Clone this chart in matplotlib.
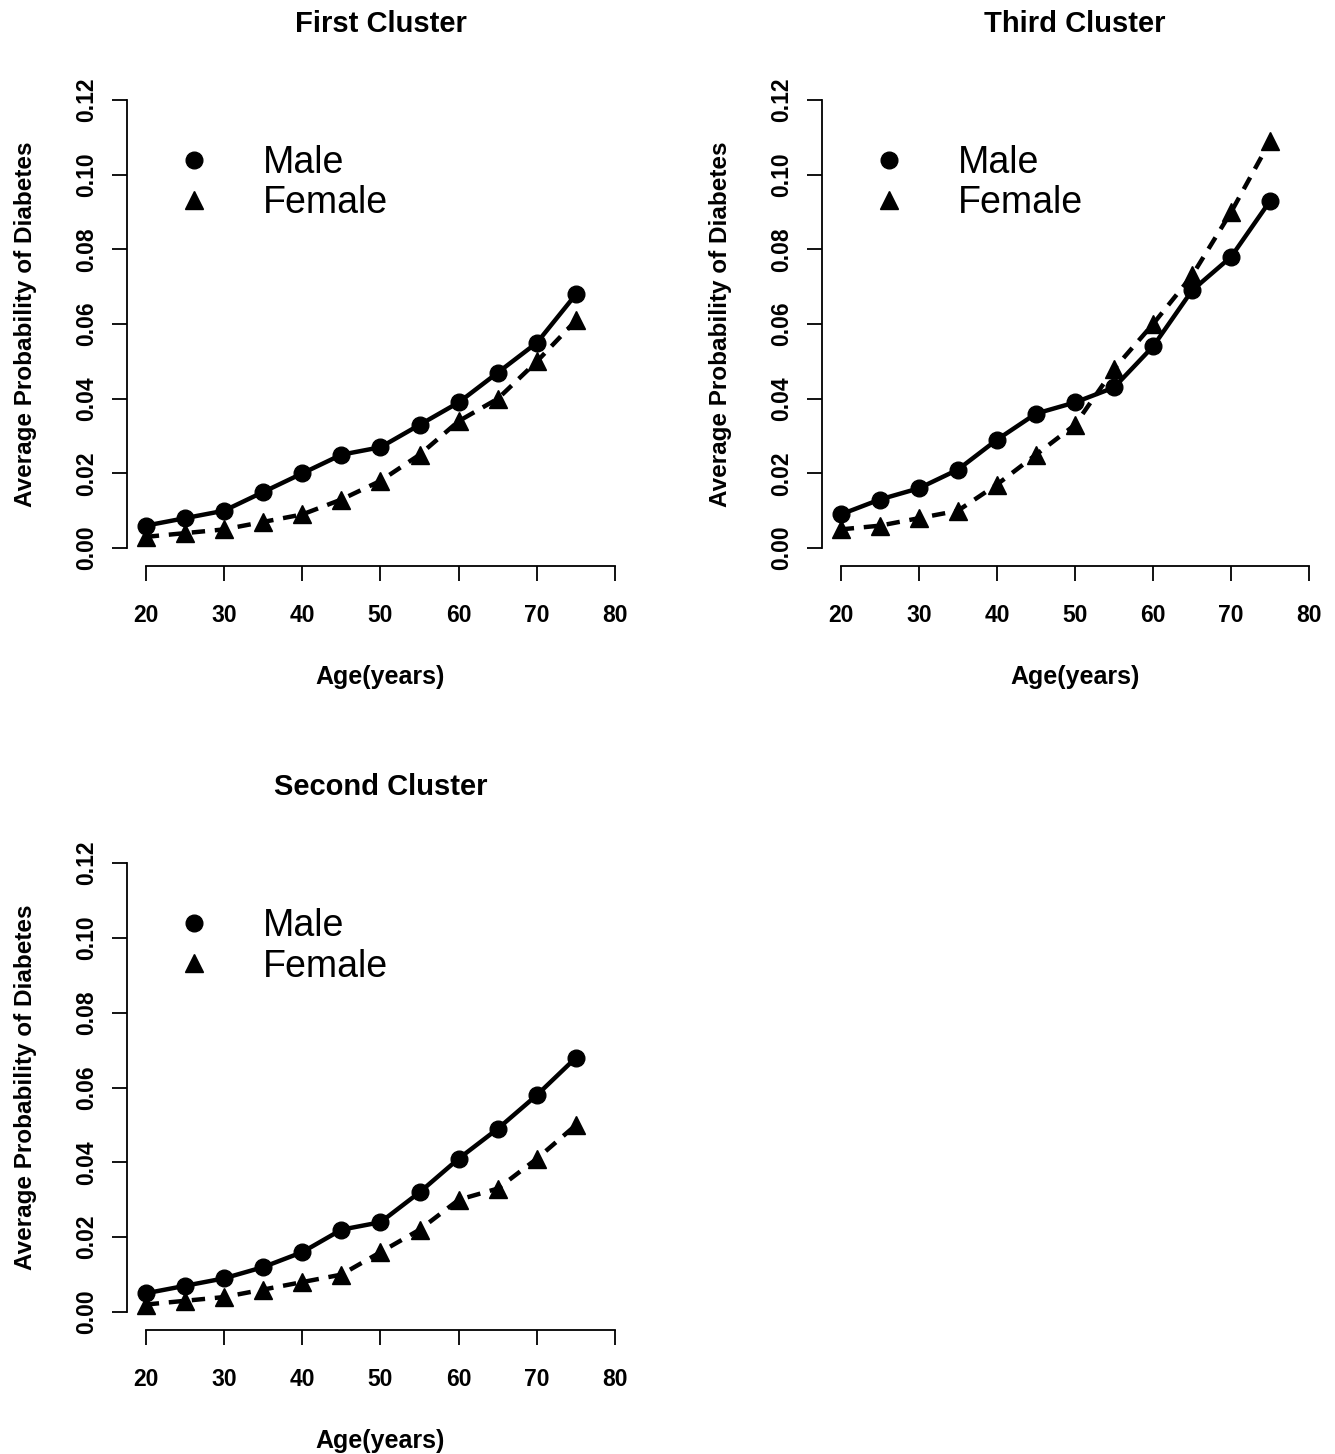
import matplotlib
matplotlib.use("Agg")
import matplotlib.pyplot as plt
from matplotlib.lines import Line2D

plt.rcParams['font.family'] = ['Liberation Sans', 'DejaVu Sans']

ages = [20, 25, 30, 35, 40, 45, 50, 55, 60, 65, 70, 75]

first_male = [0.006, 0.008, 0.010, 0.015, 0.020, 0.025, 0.027, 0.033, 0.039, 0.047, 0.055, 0.068]
first_female = [0.003, 0.004, 0.005, 0.007, 0.009, 0.013, 0.018, 0.025, 0.034, 0.040, 0.050, 0.061]

third_male = [0.009, 0.013, 0.016, 0.021, 0.029, 0.036, 0.039, 0.043, 0.054, 0.069, 0.078, 0.093]
third_female = [0.005, 0.006, 0.008, 0.010, 0.017, 0.025, 0.033, 0.048, 0.060, 0.073, 0.090, 0.109]

second_male = [0.005, 0.007, 0.009, 0.012, 0.016, 0.022, 0.024, 0.032, 0.041, 0.049, 0.058, 0.068]
second_female = [0.002, 0.003, 0.004, 0.006, 0.008, 0.010, 0.016, 0.022, 0.030, 0.033, 0.041, 0.050]

xticks = [20, 30, 40, 50, 60, 70, 80]
yticks = [0.00, 0.02, 0.04, 0.06, 0.08, 0.10, 0.12]
ytick_labels = ["0.00", "0.02", "0.04", "0.06", "0.08", "0.10", "0.12"]

W, H = 1335, 1454
fig = plt.figure(figsize=(W / 100, H / 100), dpi=100)


def px_axes(left, top, right, bottom):
    return fig.add_axes([left / W, 1 - bottom / H, (right - left) / W, (bottom - top) / H])


def panel(ax, title, male, female):
    ax.plot(ages, male, color='black', lw=3.2, marker='o', ms=12, zorder=3)
    ax.plot(ages, female, color='black', lw=3.2, ls=(0, (3, 2.2)), marker='^', ms=13.5, zorder=2)
    ax.set_xlim(17.6, 82.4)
    ax.set_ylim(-0.0048, 0.1248)
    for s in ['top', 'right']:
        ax.spines[s].set_visible(False)
    ax.spines['left'].set_bounds(0, 0.12)
    ax.spines['bottom'].set_bounds(20, 80)
    for s in ['left', 'bottom']:
        ax.spines[s].set_linewidth(1.3)
    ax.set_xticks(xticks)
    ax.set_yticks(yticks)
    ax.set_yticklabels(ytick_labels, rotation=90, va='center')
    ax.tick_params(axis='x', length=11, width=1.3, labelsize=16.5, pad=16)
    ax.tick_params(axis='y', length=11, width=1.3, labelsize=16.5, pad=10)
    for lab in ax.get_xticklabels() + ax.get_yticklabels():
        lab.set_fontweight('bold')
    ax.set_xlabel("Age(years)", fontsize=18, fontweight='bold', labelpad=28)
    ax.set_ylabel("Average Probability of Diabetes", fontsize=17.5, fontweight='bold', labelpad=27.5)
    ax.set_title(title, fontsize=21, fontweight='bold', pad=36)
    handles = [Line2D([], [], color='black', marker='o', ls='none', ms=12),
               Line2D([], [], color='black', marker='^', ls='none', ms=13.5)]
    ax.legend(handles, ["Male", "Female"], loc='upper left', bbox_to_anchor=(0.076, 0.870),
              frameon=False, fontsize=27, handletextpad=1.1, labelspacing=0.12,
              handlelength=1.5, borderaxespad=0, borderpad=0)


ax1 = px_axes(127, 82, 634, 566)
panel(ax1, "First Cluster", first_male, first_female)

ax3 = px_axes(822, 82, 1328, 566)
panel(ax3, "Third Cluster", third_male, third_female)

ax2 = px_axes(127, 845, 634, 1330)
panel(ax2, "Second Cluster", second_male, second_female)

fig.savefig("out.png", dpi=100, facecolor='white')
